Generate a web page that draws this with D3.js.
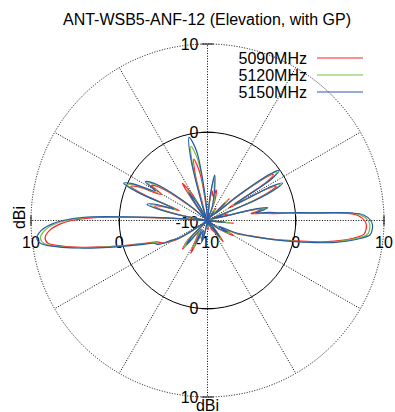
<!DOCTYPE html>
<html><head><meta charset="utf-8">
<script src="https://cdn.jsdelivr.net/npm/d3@7"></script>
<style>
html,body{margin:0;padding:0;background:#fff;}
svg{display:block;font-family:"Liberation Sans",Arial,sans-serif;}
</style></head>
<body>
<svg id="chart" width="395" height="412"></svg>
<script>
// ---- data ----
const title = "ANT-WSB5-ANF-12 (Elevation, with GP)";
const seriesNames = ["5090MHz", "5120MHz", "5150MHz"];
const rTicks = [-10, 0, 10];
const axisLabel = "dBi";
// angles in degrees, 0 = right (horizon), counter-clockwise
const angles = [0, 2, 3, 4, 5, 6, 7.5, 9, 10.5, 12, 13.5, 15.5, 18, 20, 23, 25, 26.5, 28, 30.5, 33, 35, 36.5, 39, 42, 45, 48, 55, 62, 70, 74, 77, 81, 84, 88, 95, 99, 102.5, 105, 109, 115, 120, 124, 128, 133, 140, 145, 148, 150.5, 154, 156, 158, 160.5, 163, 165, 167, 170, 174, 176, 177.5, 178.5, 180, 181.5, 183.5, 186, 188, 190, 192, 194, 197, 200, 203, 206, 209, 212, 215, 220, 225, 229, 233, 238, 243, 247, 252, 255, 259, 265, 275, 285, 295, 302, 306.5, 311, 318, 324, 330, 333, 336, 338.5, 341, 344, 347, 350, 353, 355, 357, 358.5];
const g5090 = [7.8, 7.0, 5.7, 1.8, -0.6, -2.5, -3.8, -5.0, -4.2, -3.6, -5.2, -9.4, -7.6, -9.8, -4.8, -2.1, -1.3, -2.4, -7.2, -2.0, -0.9, -1.9, -6.0, -8.5, -6.5, -9.3, -8.3, -9.8, -7.5, -6.4, -7.2, -6.6, -8.2, -9.6, -8.6, -4.6, -2.9, -4.8, -8.9, -9.2, -6.6, -4.9, -8.4, -9.7, -7.8, -3.5, -2.5, -4.0, -1.3, -0.5, -2.4, -6.6, -4.4, -3.8, -5.0, -9.3, -13.0, -7.8, -1.8, 2.8, 5.4, 6.8, 7.9, 8.5, 8.3, 6.7, 4.6, 2.4, -0.4, -2.4, -3.8, -4.2, -5.0, -6.0, -8.8, -10.0, -6.8, -5.7, -8.3, -7.6, -5.8, -8.0, -7.8, -7.4, -9.0, -10.0, -9.0, -9.9, -8.9, -8.4, -7.0, -8.8, -9.8, -8.2, -6.6, -7.8, -6.2, -5.6, -4.6, -2.4, 0.2, 3.8, 6.6, 7.8, 8.0, 8.0];
const g5120 = [8.2, 7.4, 6.1, 2.2, -0.1, -2.0, -3.3, -4.6, -3.8, -3.3, -4.8, -9.2, -8.0, -9.7, -4.3, -1.6, -0.8, -1.9, -6.8, -1.5, -0.4, -1.4, -5.5, -8.8, -6.8, -9.5, -8.6, -10.0, -8.0, -7.0, -6.6, -5.2, -7.6, -9.7, -8.0, -3.1, -1.4, -3.5, -8.5, -9.4, -7.3, -5.8, -8.8, -9.8, -7.4, -3.0, -2.0, -3.5, -0.8, 0.0, -1.9, -6.2, -4.0, -3.3, -4.5, -9.1, -12.5, -7.2, -1.0, 3.5, 6.0, 7.4, 8.5, 9.05, 8.7, 7.0, 4.8, 2.6, -0.2, -2.2, -3.6, -4.0, -5.3, -6.2, -9.0, -10.2, -7.0, -5.9, -8.5, -8.0, -6.4, -8.5, -8.0, -7.5, -9.2, -10.2, -9.2, -10.1, -9.2, -8.7, -7.4, -9.1, -10.0, -8.4, -7.0, -8.2, -6.4, -5.4, -4.3, -2.1, 0.6, 4.2, 6.9, 8.2, 8.4, 8.4];
const g5150 = [8.5, 7.7, 6.4, 2.5, 0.2, -1.7, -3.0, -4.5, -3.6, -3.0, -4.5, -9.0, -8.3, -9.6, -4.0, -1.3, -0.5, -1.6, -6.5, -1.3, -0.1, -1.1, -5.2, -9.0, -7.2, -9.6, -8.8, -10.2, -8.6, -7.6, -6.4, -4.8, -7.4, -9.8, -7.6, -2.0, -0.35, -2.6, -8.2, -9.6, -7.8, -6.2, -9.0, -9.8, -7.2, -2.7, -1.7, -3.2, -0.4, 0.4, -1.5, -6.0, -3.6, -2.9, -4.2, -9.0, -12.0, -6.8, -0.5, 4.0, 6.4, 7.8, 8.9, 9.45, 9.0, 7.2, 5.0, 2.8, 0.0, -2.0, -3.4, -3.8, -5.4, -6.3, -9.2, -10.3, -7.6, -6.4, -8.8, -8.6, -7.0, -8.8, -8.2, -7.6, -9.3, -10.4, -9.4, -10.3, -9.4, -8.9, -7.6, -9.3, -10.2, -8.6, -7.4, -8.6, -6.8, -5.6, -4.2, -2.0, 0.8, 4.4, 7.2, 8.5, 8.7, 8.7];
const seriesValues = [g5090, g5120, g5150];

// ---- layout ----
const svg = d3.select("#chart");
const cx = 207.5, cy = 220.5, R = 176.5;
const r = d3.scaleLinear().domain([-10, 10]).range([0, R]); // values below -10 fold through the centre (gnuplot style)
const color = d3.scaleOrdinal().domain(seriesNames).range(["#ff2020", "#74bf44", "#2a5aab"]);
const toRad = d => (90 - d) * Math.PI / 180;

svg.append("text").attr("x", 207).attr("y", 25).attr("text-anchor", "middle")
  .attr("font-size", 16).text(title);

const g = svg.append("g").attr("transform", `translate(${cx},${cy})`);

// grid: spokes every 30 deg
const spokes = d3.range(0, 360, 30);
g.selectAll("line.spoke").data(spokes).join("line").attr("class", "spoke")
  .attr("x1", 0).attr("y1", 0)
  .attr("x2", d => r(10) * Math.cos(d * Math.PI / 180))
  .attr("y2", d => -r(10) * Math.sin(d * Math.PI / 180))
  .attr("stroke", "#000").attr("stroke-width", 1).attr("stroke-dasharray", "1,1.6");

// circles
g.append("circle").attr("r", r(10)).attr("fill", "none").attr("stroke", "#000")
  .attr("stroke-width", 1).attr("stroke-dasharray", "1,1.6");
g.append("circle").attr("r", r(0)).attr("fill", "none").attr("stroke", "#000").attr("stroke-width", 1);

// ticks and labels on the axes
const hPos = [];
rTicks.forEach(t => { hPos.push({v: t, x: -r(t)}); if (t !== -10) hPos.push({v: t, x: r(t)}); });
g.selectAll("line.htick").data(hPos).join("line").attr("class", "htick")
  .attr("x1", d => d.x).attr("x2", d => d.x).attr("y1", -5).attr("y2", 5)
  .attr("stroke", "#000").attr("stroke-width", 1);
g.selectAll("text.hlab").data(hPos).join("text").attr("class", "hlab")
  .attr("x", d => d.x).attr("y", 22).attr("dy", "0.35em")
  .attr("text-anchor", "middle").attr("font-size", 16).text(d => d.v);

const vPos = [];
rTicks.forEach(t => { vPos.push({v: t, y: -r(t)}); if (t !== -10) vPos.push({v: t, y: r(t)}); });
g.selectAll("line.vtick").data(vPos).join("line").attr("class", "vtick")
  .attr("x1", -6).attr("x2", 6).attr("y1", d => d.y).attr("y2", d => d.y)
  .attr("stroke", "#000").attr("stroke-width", 1);
g.selectAll("text.vlab").data(vPos).join("text").attr("class", "vlab")
  .attr("x", -9).attr("y", d => d.y + (d.v === -10 ? 1.5 : 0)).attr("dy", "0.35em")
  .attr("text-anchor", "end").attr("font-size", 16).text(d => d.v);

// axis titles
svg.append("text").attr("transform", "translate(25,217.5) rotate(-90)")
  .attr("text-anchor", "middle").attr("font-size", 16).text(axisLabel);
svg.append("text").attr("x", 207.5).attr("y", 410.5).attr("text-anchor", "middle")
  .attr("font-size", 16).text(axisLabel);

// pattern curves
const line = d3.lineRadial()
  .angle((d, i) => toRad(angles[i]))
  .radius(d => r(d))
  .curve(d3.curveCatmullRomClosed.alpha(0.5));

seriesNames.forEach((name, k) => {
  g.append("path").datum(seriesValues[k])
    .attr("d", line).attr("fill", "none")
    .attr("stroke", color(name)).attr("stroke-width", 1.2)
    .attr("stroke-linejoin", "round");
});

// legend
const lg = svg.append("g");
seriesNames.forEach((name, k) => {
  const y = 58 + k * 17;
  lg.append("text").attr("x", 307).attr("y", y).attr("dy", "0.35em")
    .attr("text-anchor", "end").attr("font-size", 16).text(name);
  lg.append("line").attr("x1", 317).attr("x2", 363).attr("y1", y).attr("y2", y)
    .attr("stroke", color(name)).attr("stroke-width", 1.2);
});
</script>
</body></html>
